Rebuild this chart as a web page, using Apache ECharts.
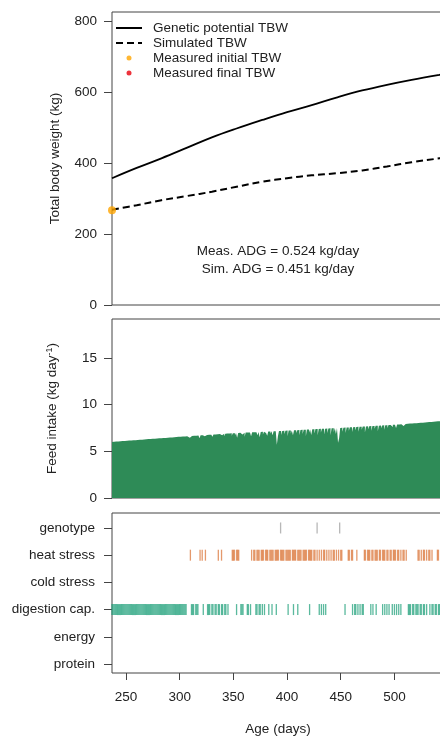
<!DOCTYPE html>
<html>
<head>
<meta charset="utf-8">
<script src="https://cdn.jsdelivr.net/npm/echarts@6/dist/echarts.min.js"></script>
<style>
  html, body { margin: 0; padding: 0; background: #fff; }
  #chart { width: 440px; height: 736px; }
</style>
</head>
<body>
<div id="chart"></div>
<script>
// Body weight curves (kg) against age (days)
const tbwDays = [237, 260, 283, 307, 330, 353, 377, 400, 423, 446, 470, 493, 516, 542, 570];
const geneticTBW = [357, 386, 413, 443, 472, 497, 521, 543, 563, 584, 604, 620, 634, 648, 662];
const simulatedTBW = [268, 281, 295, 307, 319, 333, 347, 357, 365, 371, 379, 390, 402, 413, 425];
const measuredInitial = [[237, 267]];
const measuredFinal = [[566, 439]];
const measAdgText = 'Meas. ADG = 0.524 kg/day';
const simAdgText = 'Sim. ADG = 0.451 kg/day';

// Daily feed intake (kg/day), one value per day starting at feedStartDay
const feedStartDay = 237;
const feedIntake = [
  6.00, 6.01, 6.02, 6.03, 6.04, 6.05, 6.05, 6.06, 6.07, 6.08,
  6.09, 6.10, 6.11, 6.11, 6.12, 6.13, 6.14, 6.15, 6.16, 6.17,
  6.18, 6.18, 6.19, 6.20, 6.21, 6.22, 6.23, 6.24, 6.24, 6.25,
  6.26, 6.27, 6.28, 6.29, 6.30, 6.30, 6.31, 6.32, 6.33, 6.34,
  6.35, 6.36, 6.36, 6.37, 6.38, 6.39, 6.40, 6.41, 6.42, 6.42,
  6.43, 6.44, 6.45, 6.46, 6.47, 6.48, 6.48, 6.49, 6.50, 6.51,
  6.52, 6.53, 6.54, 6.54, 6.55, 6.56, 6.57, 6.58, 6.59, 6.60,
  6.60, 6.61, 6.45, 6.62, 6.63, 6.64, 6.65, 6.66, 6.66, 6.67,
  6.68, 6.69, 6.40, 6.70, 6.71, 6.72, 6.60, 6.73, 6.74, 6.75,
  6.76, 6.77, 6.78, 6.78, 6.55, 6.79, 6.80, 6.81, 6.82, 6.83,
  6.84, 6.85, 6.70, 6.86, 6.87, 6.60, 6.88, 6.89, 6.75, 6.90,
  6.91, 6.92, 6.65, 6.93, 6.94, 6.70, 6.95, 6.45, 6.96, 6.97,
  6.97, 6.80, 6.98, 6.99, 6.55, 7.00, 7.00, 6.85, 7.01, 7.02,
  6.60, 7.03, 7.03, 6.90, 7.04, 7.05, 6.70, 7.06, 6.50, 7.07,
  7.08, 6.80, 7.09, 6.95, 7.10, 6.65, 7.11, 7.12, 6.90, 7.13,
  6.70, 7.14, 7.15, 6.95, 5.70, 6.60, 7.16, 7.17, 6.75, 7.18,
  7.19, 6.85, 7.20, 7.21, 6.60, 7.22, 7.22, 6.90, 7.23, 6.70,
  7.24, 7.25, 6.95, 7.26, 7.27, 6.70, 7.28, 7.29, 6.85, 7.30,
  7.31, 6.60, 7.32, 7.33, 7.00, 7.34, 6.75, 7.35, 7.36, 6.90,
  7.37, 7.38, 6.70, 7.39, 7.40, 7.00, 7.41, 7.41, 6.80, 7.42,
  7.43, 6.95, 7.44, 7.45, 6.70, 7.46, 7.47, 7.05, 7.48, 6.85,
  7.49, 5.90, 6.40, 7.50, 7.51, 7.10, 7.52, 7.53, 6.95, 7.54,
  7.55, 7.20, 7.56, 7.57, 7.05, 7.58, 7.59, 7.25, 7.60, 7.61,
  7.10, 7.62, 7.63, 7.30, 7.64, 7.65, 7.00, 7.66, 7.67, 7.35,
  7.68, 7.69, 7.20, 7.70, 7.71, 7.40, 7.72, 7.73, 7.15, 7.74,
  7.75, 7.45, 7.76, 7.77, 7.30, 7.78, 7.79, 7.50, 7.80, 7.81,
  7.82, 7.60, 7.83, 7.84, 7.85, 7.50, 7.86, 7.87, 7.88, 7.89,
  7.90, 7.70, 7.91, 7.92, 7.93, 7.94, 7.95, 7.96, 7.80, 7.97,
  7.98, 7.99, 8.00, 8.01, 8.02, 8.03, 8.04, 8.05, 7.90, 8.06,
  8.07, 8.08, 8.09, 8.10, 8.11, 8.12, 8.13, 8.14, 8.15, 8.16,
  8.17, 8.18, 8.19, 8.20, 8.21, 8.22, 8.23, 8.24, 8.25, 8.26
];

// Days on which each factor limits growth
const limitingFactors = ['protein', 'energy', 'digestion cap.', 'cold stress', 'heat stress', 'genotype'];
const genotypeDays = [394, 428, 449];
const heatStressDays = [
  310, 319, 321, 324, 336, 339, 349, 350, 351, 353, 354, 355,
  367, 369, 370, 372, 373, 374, 376, 377, 378, 380, 381, 382, 384, 385, 386, 387, 389,
  390, 391, 392, 394, 395, 396, 397, 399, 400, 401, 402, 403, 405, 406, 407, 408,
  410, 411, 412, 413, 415, 416, 417, 418, 420, 421, 422, 423, 425, 426, 428,
  430, 432, 434, 435, 437, 439, 441, 443, 444, 446, 448, 450, 451,
  457, 458, 460, 461, 465, 472, 473, 475, 476, 477, 479, 480, 482, 483, 484, 486, 487, 489,
  490, 491, 493, 494, 496, 497, 499, 500, 501, 503, 504, 506, 508, 509, 511,
  522, 523, 525, 527, 528, 530, 532, 533, 535, 540, 541
];
const coldStressDays = [];
const digestionDays = [
  237, 238, 239, 240, 241, 242, 243, 244, 245, 246, 247, 248, 249, 250, 251, 252, 253, 254,
  255, 256, 257, 258, 259, 260, 261, 262, 263, 264, 265, 266, 267, 268, 269, 270, 271, 272,
  273, 274, 275, 276, 277, 278, 279, 280, 281, 282, 283, 284, 285, 286, 287, 288, 289, 290,
  291, 292, 293, 294, 295, 296, 297, 298, 299, 300, 301, 302, 303, 304, 305, 306,
  311, 312, 313, 315, 316, 317, 322, 326, 327, 328, 330, 331, 333, 334, 336, 337,
  339, 340, 342, 343, 345, 353, 357, 358, 359, 363, 364, 366, 371, 372, 374, 375, 377,
  379, 383, 386, 390, 401, 406, 410, 421, 430, 432, 434, 436, 454,
  461, 463, 464, 466, 468, 470, 471, 478, 480, 483, 489, 491, 493, 495,
  498, 500, 502, 504, 506, 513, 514, 515, 517, 518, 520, 521, 522, 524, 525, 527, 528, 530,
  533, 535, 536, 538, 539, 541, 542, 544, 545
];
const energyDays = [];
const proteinDays = [];

const ageTicks = [250, 300, 350, 400, 450, 500];
const tbwTicks = [0, 200, 400, 600, 800];
const feedTicks = [0, 5, 10, 15];
const factorTicks = [1, 2, 3, 4, 5, 6];

// ---------------------------------------------------------------
const FONT = '"Liberation Sans", Arial, Helvetica, sans-serif';
const FS = 13.5;
const TXT = '#222';
const BOX = '#444';
const AGE_MIN = 237;
const AGE_MAX = 570;

const zip = (xs, ys) => xs.map((x, i) => [x, ys[i]]);
const rug = (days, row) => days.map(d => [d, row]);
const feedData = feedIntake.map((v, i) => [feedStartDay + i, v]);

// The panels run on past the right edge of the page
const gridBase = {
  left: 112, width: 357.6, outerBoundsMode: 'none', containLabel: false,
  show: true, borderColor: BOX, borderWidth: 1, backgroundColor: 'transparent'
};

function xAxisFor(gridIndex, withLabels) {
  return {
    type: 'value', gridIndex, min: AGE_MIN, max: AGE_MAX,
    axisLine: { show: false },
    splitLine: { show: false },
    axisTick: withLabels
      ? { show: true, customValues: ageTicks, length: 7, lineStyle: { color: BOX } }
      : { show: false },
    axisLabel: withLabels
      ? { show: true, customValues: ageTicks, margin: 17, color: TXT, fontFamily: FONT, fontSize: FS }
      : { show: false }
  };
}

function yAxisFor(gridIndex, min, max, ticks, extra) {
  return Object.assign({
    type: 'value', gridIndex, min, max,
    axisLine: { show: false },
    splitLine: { show: false },
    axisTick: { show: true, customValues: ticks, length: 8, lineStyle: { color: BOX } },
    axisLabel: { show: true, customValues: ticks, margin: 15, color: TXT, fontFamily: FONT, fontSize: FS },
    nameLocation: 'middle',
    nameTextStyle: { color: TXT, fontFamily: FONT, fontSize: FS }
  }, extra || {});
}

const rugSize = [1.3, 11];
// legend marker: small dot centred in a 26 x 14 box
const dotIcon = 'path://M0,0 M26,14 M10.5,7 A2.5,2.5 0 1,0 15.5,7 A2.5,2.5 0 1,0 10.5,7 Z';

const option = {
  animation: false,
  backgroundColor: '#fff',
  textStyle: { fontFamily: FONT },
  grid: [
    Object.assign({ top: 12, height: 293 }, gridBase),
    Object.assign({ top: 319, height: 179 }, gridBase),
    Object.assign({ top: 513, height: 160 }, gridBase)
  ],
  xAxis: [xAxisFor(0, false), xAxisFor(1, false), xAxisFor(2, true)],
  yAxis: [
    yAxisFor(0, 0, 825, tbwTicks, { name: 'Total body weight (kg)', nameGap: 50 }),
    yAxisFor(1, 0, 19.15, feedTicks, {
      name: '{a|Feed intake (kg day}{s|-1}{a|)}', nameGap: 52,
      nameTextStyle: {
        color: TXT, fontFamily: FONT, fontSize: FS,
        rich: {
          a: { color: TXT, fontFamily: FONT, fontSize: FS },
          s: { color: TXT, fontFamily: FONT, fontSize: 9, verticalAlign: 'top', padding: [0, 0, 6, 0] }
        }
      }
    }),
    yAxisFor(2, 0.669, 6.55, factorTicks, {
      axisLabel: {
        show: true, customValues: factorTicks, margin: 17, color: TXT, fontFamily: FONT, fontSize: FS,
        formatter: v => limitingFactors[Math.round(v) - 1]
      }
    })
  ],
  legend: {
    data: [
      { name: 'Genetic potential TBW', itemStyle: { opacity: 0 } },
      { name: 'Simulated TBW', itemStyle: { opacity: 0 } },
      { name: 'Measured initial TBW', icon: dotIcon },
      { name: 'Measured final TBW', icon: dotIcon }
    ],
    orient: 'vertical', left: 115, top: 21, padding: 0, itemGap: 1,
    itemWidth: 26, itemHeight: 14,
    textStyle: { color: TXT, fontFamily: FONT, fontSize: FS, lineHeight: 14, padding: [0, 0, 0, 6] }
  },
  graphic: [
    { type: 'text', x: 278, y: 251, style: { text: measAdgText, fill: TXT, font: FS + 'px ' + FONT, textAlign: 'center', textVerticalAlign: 'middle' } },
    { type: 'text', x: 278, y: 269, style: { text: simAdgText, fill: TXT, font: FS + 'px ' + FONT, textAlign: 'center', textVerticalAlign: 'middle' } },
    { type: 'text', x: 278, y: 729, style: { text: 'Age (days)', fill: TXT, font: FS + 'px ' + FONT, textAlign: 'center', textVerticalAlign: 'middle' } }
  ],
  series: [
    {
      name: 'Genetic potential TBW', type: 'line', xAxisIndex: 0, yAxisIndex: 0,
      data: zip(tbwDays, geneticTBW), smooth: 0.4, symbol: 'none',
      lineStyle: { color: '#000', width: 1.8 }, itemStyle: { color: '#000' }, z: 3
    },
    {
      name: 'Simulated TBW', type: 'line', xAxisIndex: 0, yAxisIndex: 0,
      data: zip(tbwDays, simulatedTBW), smooth: 0.4, symbol: 'none',
      lineStyle: { color: '#000', width: 2, type: [7, 4] }, itemStyle: { color: '#000' }, z: 3
    },
    {
      name: 'Measured initial TBW', type: 'scatter', xAxisIndex: 0, yAxisIndex: 0,
      data: measuredInitial, symbol: 'circle', symbolSize: 8, clip: false,
      itemStyle: { color: '#FFA500' }, z: 4
    },
    {
      name: 'Measured final TBW', type: 'scatter', xAxisIndex: 0, yAxisIndex: 0,
      data: measuredFinal, symbol: 'circle', symbolSize: 8,
      itemStyle: { color: '#E8000B' }, z: 4
    },
    {
      name: 'Feed intake', type: 'line', xAxisIndex: 1, yAxisIndex: 1,
      data: feedData, step: 'middle', symbol: 'none',
      lineStyle: { width: 0 }, areaStyle: { color: '#2E8B57', opacity: 1 }
    },
    {
      name: 'genotype', type: 'scatter', xAxisIndex: 2, yAxisIndex: 2,
      data: rug(genotypeDays, 6), symbol: 'rect', symbolSize: rugSize,
      itemStyle: { color: 'rgba(150,150,150,0.85)' }
    },
    {
      name: 'heat stress', type: 'scatter', xAxisIndex: 2, yAxisIndex: 2,
      data: rug(heatStressDays, 5), symbol: 'rect', symbolSize: rugSize,
      itemStyle: { color: 'rgba(210,85,10,0.75)' }
    },
    {
      name: 'cold stress', type: 'scatter', xAxisIndex: 2, yAxisIndex: 2,
      data: rug(coldStressDays, 4), symbol: 'rect', symbolSize: rugSize,
      itemStyle: { color: 'rgba(117,112,179,0.6)' }
    },
    {
      name: 'digestion cap.', type: 'scatter', xAxisIndex: 2, yAxisIndex: 2,
      data: rug(digestionDays, 3), symbol: 'rect', symbolSize: rugSize,
      itemStyle: { color: 'rgba(27,158,119,0.9)' }
    },
    {
      name: 'energy', type: 'scatter', xAxisIndex: 2, yAxisIndex: 2,
      data: rug(energyDays, 2), symbol: 'rect', symbolSize: rugSize,
      itemStyle: { color: 'rgba(231,41,138,0.6)' }
    },
    {
      name: 'protein', type: 'scatter', xAxisIndex: 2, yAxisIndex: 2,
      data: rug(proteinDays, 1), symbol: 'rect', symbolSize: rugSize,
      itemStyle: { color: 'rgba(102,166,30,0.6)' }
    }
  ]
};

const chart = echarts.init(document.getElementById('chart'), null, { renderer: 'canvas' });
chart.setOption(option);
</script>
</body>
</html>
